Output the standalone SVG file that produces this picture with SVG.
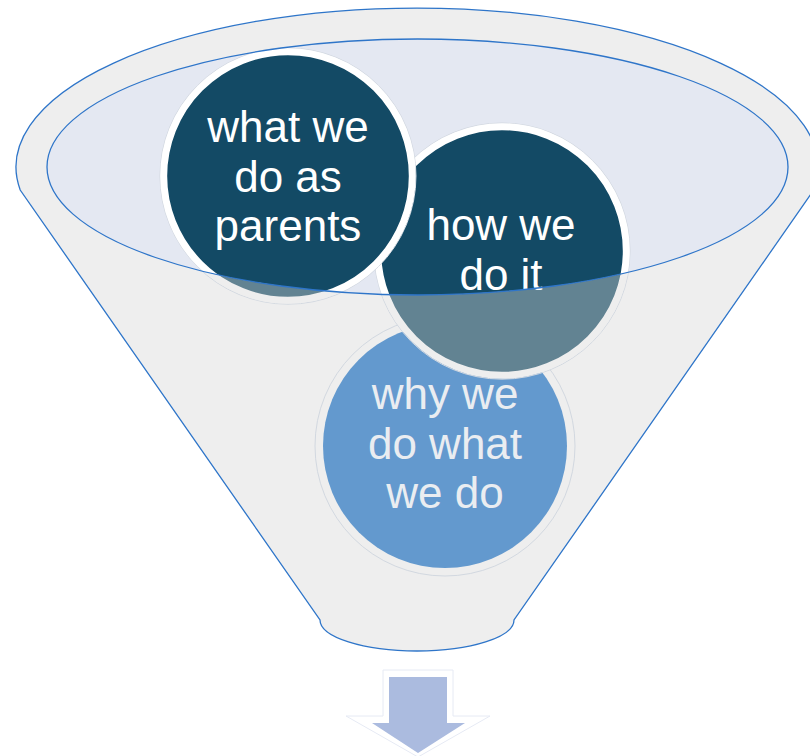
<svg xmlns="http://www.w3.org/2000/svg" width="810" height="756" viewBox="0 0 810 756">
<style>
.lbl{font-family:"Liberation Sans",Arial,sans-serif;font-size:44px;text-anchor:middle}
.w{fill:#FFFFFF}
.g{fill:#EAEDF1}
.faint{fill:none;stroke:#D2D8E0;stroke-width:1}
.edge{fill:none;stroke:#2E75C9;stroke-width:1.3}
</style>
<defs>
<clipPath id="inEll"><ellipse cx="417.5" cy="167" rx="370.5" ry="128"/></clipPath>
<clipPath id="outEll"><path clip-rule="evenodd" d="M0 0H810V756H0Z M47 167 A370.5 128 0 1 0 788 167 A370.5 128 0 1 0 47 167Z"/></clipPath>
</defs>
<rect width="810" height="756" fill="#FFFFFF"/>
<g id="funnel">
<path id="funnelBody" d="M20.2 190 A401 159 0 1 1 813.8 190 L514 620 A97 31 0 0 1 320 620 Z" fill="#EEEEEE"/>
<ellipse id="funnelMouth" cx="417.5" cy="167" rx="370.5" ry="128" fill="#E4E8F2"/>
</g>
<g id="node3">
<circle cx="445" cy="446" r="130" class="faint" stroke="#C9D9EC"/>
<circle cx="445" cy="446" r="122" fill="#6399CE"/>
<text class="lbl g" x="445" y="409">why we</text>
<text class="lbl g" x="445" y="459">do what</text>
<text class="lbl g" x="445" y="508">we do</text>
</g>
<g id="node2">
<g clip-path="url(#inEll)">
<circle cx="502" cy="251" r="128" class="faint"/>
<circle cx="502" cy="251" r="124.3" fill="#134A65" stroke="#FFFFFF" stroke-width="7"/>
</g>
<g clip-path="url(#outEll)">
<circle cx="502" cy="251" r="128.2" class="faint"/>
<circle cx="502" cy="251" r="124.3" fill="#628392" stroke="#EEEEEE" stroke-width="7"/>
</g>
<text class="lbl w" x="501" y="240">how we</text>
<text class="lbl w" x="501" y="290">do it</text>
</g>
<g id="node1">
<g clip-path="url(#inEll)">
<circle cx="288" cy="176" r="128" class="faint"/>
<circle cx="288" cy="176" r="124.3" fill="#134A65" stroke="#FFFFFF" stroke-width="7"/>
</g>
<g clip-path="url(#outEll)">
<circle cx="288" cy="176" r="128.2" class="faint"/>
<circle cx="288" cy="176" r="124.3" fill="#628392" stroke="#EEEEEE" stroke-width="7"/>
</g>
<text class="lbl w" x="288" y="142">what we</text>
<text class="lbl w" x="288" y="192">do as</text>
<text class="lbl w" x="288" y="241">parents</text>
</g>
<g id="funnelEdges">
<ellipse cx="417.5" cy="167" rx="370.5" ry="128" class="edge"/>
<path d="M20.2 190 A401 159 0 1 1 813.8 190 L514 620 A97 31 0 0 1 320 620 Z" class="edge"/>
</g>
<g id="arrow">
<polygon points="383,670 453,670 453,716 490,716 418,757 346,716 383,716" fill="#FFFFFF" stroke="#E6EAF4" stroke-width="1"/>
<polygon points="389,677 447,677 447,723 465,723 418,753 372,723 389,723" fill="#ABBBDF"/>
</g>
</svg>
